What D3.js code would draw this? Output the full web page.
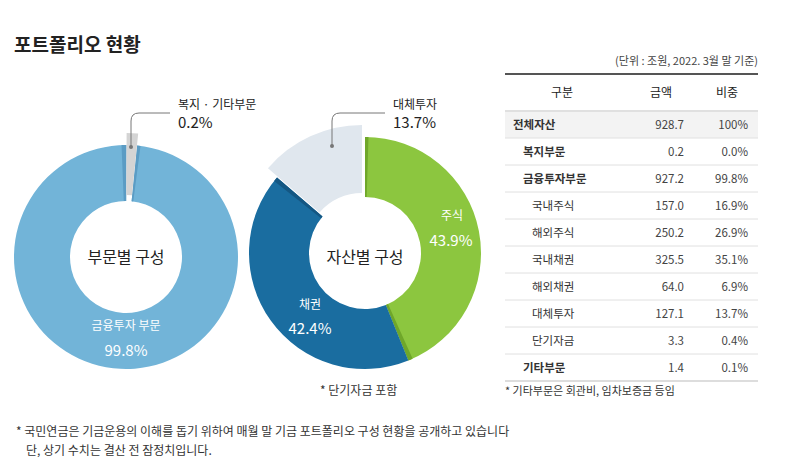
<!DOCTYPE html>
<html><head><meta charset="utf-8">
<script src="https://cdn.jsdelivr.net/npm/d3@7"></script>
<style>
body{margin:0;background:#fff;}
text{font-family:"Noto Sans CJK KR","Noto Sans",sans-serif;}
</style></head>
<body><svg></svg>
<script>
const sectorNames = ['금융투자 부문', '복지 · 기타부문'];
const sectorShares = [99.8, 0.2];
const assetNames = ['주식', '채권', '대체투자'];
const assetShares = [43.9, 42.4, 13.7];
const tableRows = ['전체자산','복지부문','금융투자부문','국내주식','해외주식','국내채권','해외채권','대체투자','단기자금','기타부문'];
const tableAmounts = ['928.7','0.2','927.2','157.0','250.2','325.5','64.0','127.1','3.3','1.4'];
const tablePcts = ['100%','0.0%','99.8%','16.9%','26.9%','35.1%','6.9%','13.7%','0.4%','0.1%'];
const tableLevels = [0,1,1,2,2,2,2,2,2,1];

const svg = d3.select('svg').attr('width', 800).attr('height', 474);

svg.append('text').attr('x', 14).attr('y', 52).attr('font-size', 19).attr('font-weight', 'bold')
    .attr('fill', '#222').text('포트폴리오 현황');

const pie = d3.pie().sort(null).value(d => d);

//LEFT DONUT
const gL = svg.append('g').attr('transform', 'translate(126,257)');
const arcsL = pie(sectorShares);
// enlarge tiny slice so it is visible, keep it at the top
arcsL[1].startAngle = 0.005; arcsL[1].endAngle = 0.1;
arcsL[0].startAngle = 0.1; arcsL[0].endAngle = 2 * Math.PI;
const arcL = d3.arc().innerRadius(56).outerRadius(112);
gL.append('path').attr('d', arcL(arcsL[0])).attr('fill', '#72b4d8');
gL.append('path').attr('d', arcL({startAngle: 0.1, endAngle: 0.13})).attr('fill', '#5b9cc4');
gL.append('path').attr('d', arcL({startAngle: -0.04, endAngle: 0.005})).attr('fill', '#5b9cc4');
gL.append('path').attr('d', d3.arc().innerRadius(60).outerRadius(122)(arcsL[1]))
    .attr('fill', '#d4d4d4').attr('transform', 'translate(0,-2)');
gL.append('text').attr('text-anchor', 'middle').attr('y', 6).attr('font-size', 16).attr('fill', '#222').text('부문별 구성');
gL.append('text').attr('text-anchor', 'middle').attr('y', 73).attr('font-size', 12).attr('fill', '#fff').text(sectorNames[0]);
gL.append('text').attr('text-anchor', 'middle').attr('y', 99).attr('font-size', 15).attr('fill', '#fff').text(sectorShares[0] + '%');

//RIGHT DONUT
const gR = svg.append('g').attr('transform', 'translate(365,253)');
const arcsR = pie(assetShares);
const arcR = d3.arc().innerRadius(56).outerRadius(116);
const colorsR = ['#8cc63f', '#1a6da0'];
const shadeR = ['#6fa72a', '#145783'];
arcsR.slice(0, 2).forEach((a, i) => {
    gR.append('path').attr('d', arcR(a)).attr('fill', colorsR[i]);
    gR.append('path').attr('d', arcR({startAngle: a.endAngle - 0.04, endAngle: a.endAngle})).attr('fill', shadeR[i]);
});
gR.append('path').attr('d', arcR({startAngle: 0, endAngle: 0.03})).attr('fill', '#6fa72a');
const alt = arcsR[2];
gR.append('path').attr('d', d3.arc().innerRadius(56).outerRadius(124)(alt))
    .attr('fill', '#e0e7ee').attr('transform', 'translate(-3,-4)');
gR.append('text').attr('text-anchor', 'middle').attr('y', 10).attr('font-size', 16).attr('fill', '#222').text('자산별 구성');
gR.append('text').attr('text-anchor', 'middle').attr('x', 87).attr('y', -33).attr('font-size', 12).attr('fill', '#fff').text(assetNames[0]);
gR.append('text').attr('text-anchor', 'middle').attr('x', 86).attr('y', -7).attr('font-size', 15).attr('fill', '#fff').text(assetShares[0] + '%');
gR.append('text').attr('text-anchor', 'middle').attr('x', -55).attr('y', 56).attr('font-size', 12).attr('fill', '#fff').text(assetNames[1]);
gR.append('text').attr('text-anchor', 'middle').attr('x', -55).attr('y', 81).attr('font-size', 15).attr('fill', '#fff').text(assetShares[1] + '%');

//CALLOUTS
function callout(px, py, tx, name, val) {
    svg.append('path').attr('d', `M${px},${py} V${121} Q${px},${113} ${px + 8},${113} H${tx - 8}`)
        .attr('fill', 'none').attr('stroke', '#777').attr('stroke-width', 1);
    svg.append('circle').attr('cx', px).attr('cy', py).attr('r', 2).attr('fill', '#777');
    svg.append('text').attr('x', tx).attr('y', 109).attr('font-size', 12).attr('fill', '#222').text(name);
    svg.append('text').attr('x', tx).attr('y', 128).attr('font-size', 15).attr('fill', '#222').text(val);
}
callout(131, 147, 178, sectorNames[1], sectorShares[1] + '%');
callout(332, 146, 393, assetNames[2], assetShares[2] + '%');

svg.append('text').attr('x', 320).attr('y', 395).attr('font-size', 12).attr('fill', '#333').text('* 단기자금 포함');

//TABLE
const tx0 = 505, tx1 = 758, rowH = 27, tTop = 111;
svg.append('text').attr('x', tx1).attr('y', 65).attr('text-anchor', 'end').attr('font-size', 11).attr('fill', '#444')
    .text('(단위 : 조원, 2022. 3월 말 기준)');
svg.append('line').attr('x1', tx0).attr('x2', tx1).attr('y1', 74).attr('y2', 74).attr('stroke', '#555').attr('stroke-width', 2);
[['구분', 562], ['금액', 661], ['비중', 727]].forEach(h => {
    svg.append('text').attr('x', h[1]).attr('y', 97).attr('text-anchor', 'middle').attr('font-size', 12).attr('fill', '#222').text(h[0]);
});
svg.append('rect').attr('x', tx0).attr('y', tTop).attr('width', tx1 - tx0).attr('height', rowH).attr('fill', '#f3f3f3');
const rowY = d3.scaleLinear().domain([0, tableRows.length]).range([tTop, tTop + rowH * tableRows.length]);
d3.range(tableRows.length + 1).forEach(i => {
    svg.append('line').attr('x1', tx0).attr('x2', tx1).attr('y1', rowY(i)).attr('y2', rowY(i))
        .attr('stroke', i === tableRows.length ? '#bbb' : '#e0e0e0').attr('stroke-width', i === 0 ? 2 : 1);
});
tableRows.forEach((r, i) => {
    const y = rowY(i) + 18;
    svg.append('text').attr('x', [513, 523, 532][tableLevels[i]]).attr('y', y).attr('font-size', 11.5)
        .attr('font-weight', tableLevels[i] === 2 ? 'normal' : 'bold').attr('fill', '#333').text(r);
    svg.append('text').attr('x', 684).attr('y', y).attr('text-anchor', 'end').attr('font-size', 11.5).attr('fill', '#444').text(tableAmounts[i]);
    svg.append('text').attr('x', 748).attr('y', y).attr('text-anchor', 'end').attr('font-size', 11.5).attr('fill', '#444').text(tablePcts[i]);
});
svg.append('text').attr('x', 505).attr('y', 395).attr('font-size', 11).attr('fill', '#333').text('* 기타부문은 회관비, 임차보증금 등임');

//FOOTNOTES
svg.append('text').attr('x', 16).attr('y', 436).attr('font-size', 12).attr('fill', '#333')
    .text('* 국민연금은 기금운용의 이해를 돕기 위하여 매월 말 기금 포트폴리오 구성 현황을 공개하고 있습니다');
svg.append('text').attr('x', 26).attr('y', 455).attr('font-size', 12).attr('fill', '#333')
    .text('단, 상기 수치는 결산 전 잠정치입니다.');
</script></body></html>
